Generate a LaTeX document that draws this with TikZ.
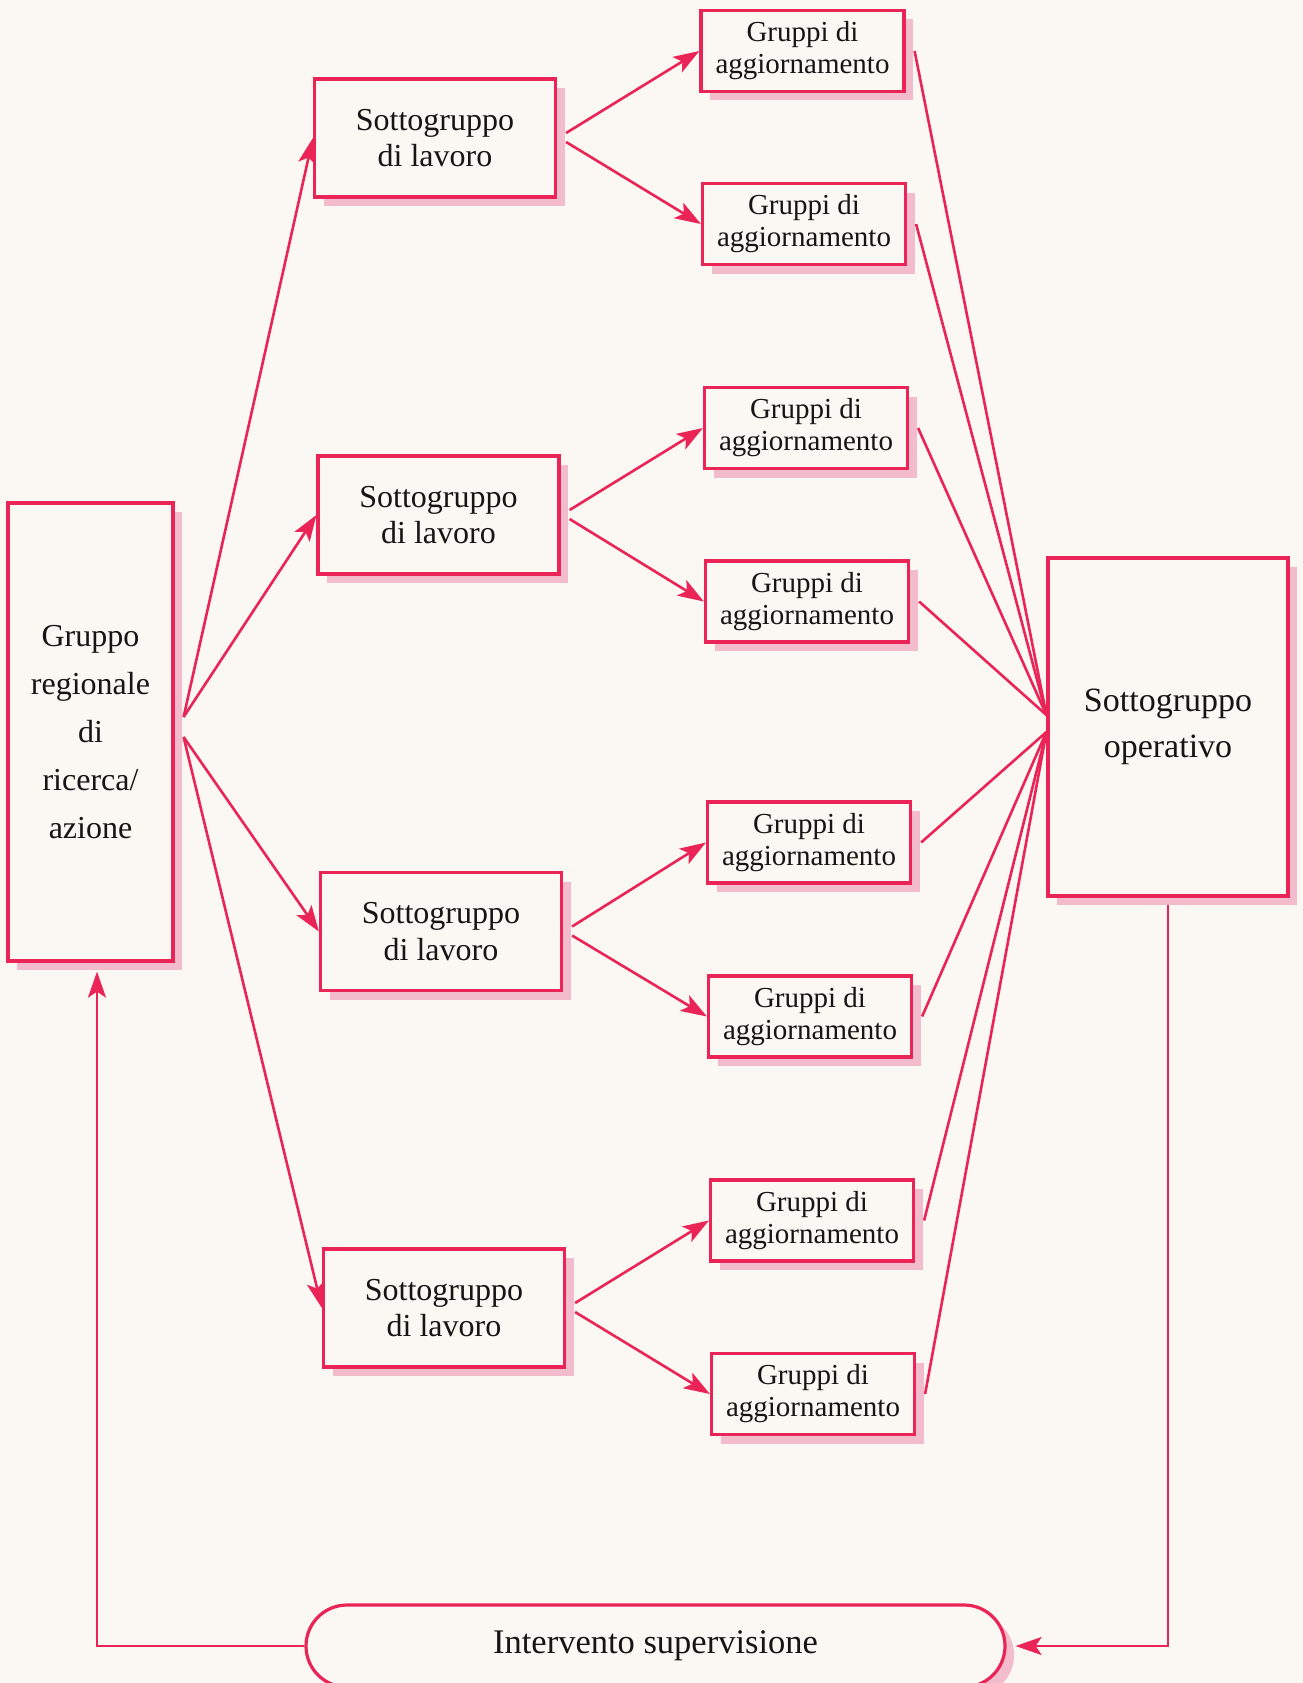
\documentclass[tikz,border=0pt]{standalone}
\usepackage{fontspec}
\setmainfont{Liberation Serif}
\usetikzlibrary{shapes.misc,shadows,arrows.meta}
\definecolor{crim}{RGB}{234,36,86}
\definecolor{shpink}{RGB}{242,188,204}
\definecolor{paper}{RGB}{251,247,242}
\definecolor{ink}{RGB}{22,20,20}
\pgfdeclarelayer{paperlayer}
\pgfdeclarelayer{bg}
\pgfsetlayers{paperlayer,bg,main}
\begin{document}
\begin{tikzpicture}[x=1pt,y=-1pt,
  box/.style={draw=crim,line width=3.2pt,fill=paper,inner sep=0pt,align=center,text=ink,
    drop shadow={shadow xshift=9pt,shadow yshift=-9pt,fill=shpink,opacity=1}},
  sub/.style={box,minimum width=241pt,minimum height=118pt,font=\fontsize{32}{36.5}\selectfont},
  grp/.style={box,minimum width=203pt,minimum height=81pt,font=\fontsize{29}{32}\selectfont},
  con/.style={draw=crim,line width=2.6pt},
  arr/.style={con,-{Stealth[length=26pt,width=18pt,inset=6pt]}}]
\useasboundingbox (0,0) rectangle (1303,1683);
\begin{pgfonlayer}{paperlayer}
\fill[paper] (0,0) rectangle (1303,1683);
\end{pgfonlayer}

\node[box,minimum width=165pt,minimum height=458pt,font=\fontsize{32}{47.8}\selectfont] (gr) at (90.5,732) {Gruppo\\regionale\\di\\ricerca/\\azione};

\node[sub] (s1) at (435,138) {Sottogruppo\\di lavoro};
\node[sub] (s2) at (438.5,515) {Sottogruppo\\di lavoro};
\node[sub] (s3) at (441,931.5) {Sottogruppo\\di lavoro};
\node[sub] (s4) at (444,1308) {Sottogruppo\\di lavoro};

\node[grp] (g1) at (802.5,51) {Gruppi di\\aggiornamento};
\node[grp] (g2) at (804,224) {Gruppi di\\aggiornamento};
\node[grp] (g3) at (806,428) {Gruppi di\\aggiornamento};
\node[grp] (g4) at (807,601.5) {Gruppi di\\aggiornamento};
\node[grp] (g5) at (809,842.5) {Gruppi di\\aggiornamento};
\node[grp] (g6) at (810,1016.5) {Gruppi di\\aggiornamento};
\node[grp] (g7) at (812,1220.5) {Gruppi di\\aggiornamento};
\node[grp] (g8) at (813,1394) {Gruppi di\\aggiornamento};

\node[box,minimum width=240pt,minimum height=338pt,font=\fontsize{34}{46}\selectfont] (op) at (1168,727) {Sottogruppo\\operativo};

\node[box,rounded rectangle,minimum width=699pt,minimum height=82pt,font=\fontsize{34.5}{40}\selectfont] (cap) at (655.5,1646) {Intervento supervisione};

\begin{pgfonlayer}{bg}
\foreach \s in {s1,s2} \draw[arr] ([xshift=9pt,yshift=15pt]gr.east) -- (\s.west);
\foreach \s in {s3,s4} \draw[arr] ([xshift=9pt,yshift=-5pt]gr.east) -- (\s.west);
\draw[arr] ([xshift=9pt,yshift=5pt]s1.east) -- (g1.west);
\draw[arr] ([xshift=9pt,yshift=-4pt]s1.east) -- (g2.west);
\draw[arr] ([xshift=9pt,yshift=5pt]s2.east) -- (g3.west);
\draw[arr] ([xshift=9pt,yshift=-4pt]s2.east) -- (g4.west);
\draw[arr] ([xshift=9pt,yshift=5pt]s3.east) -- (g5.west);
\draw[arr] ([xshift=9pt,yshift=-4pt]s3.east) -- (g6.west);
\draw[arr] ([xshift=9pt,yshift=5pt]s4.east) -- (g7.west);
\draw[arr] ([xshift=9pt,yshift=-4pt]s4.east) -- (g8.west);
\foreach \g in {g1,g2,g3,g4} \draw[con] ([xshift=9pt]\g.east) -- ([yshift=12pt]op.west);
\foreach \g in {g5,g6,g7,g8} \draw[con] ([xshift=9pt]\g.east) -- ([yshift=-5pt]op.west);
\draw[arr] (op.south) |- ([xshift=9pt]cap.east);
\draw[arr] (cap.west) -| ([xshift=6.5pt,yshift=-9pt]gr.south);
\end{pgfonlayer}
\end{tikzpicture}
\end{document}
